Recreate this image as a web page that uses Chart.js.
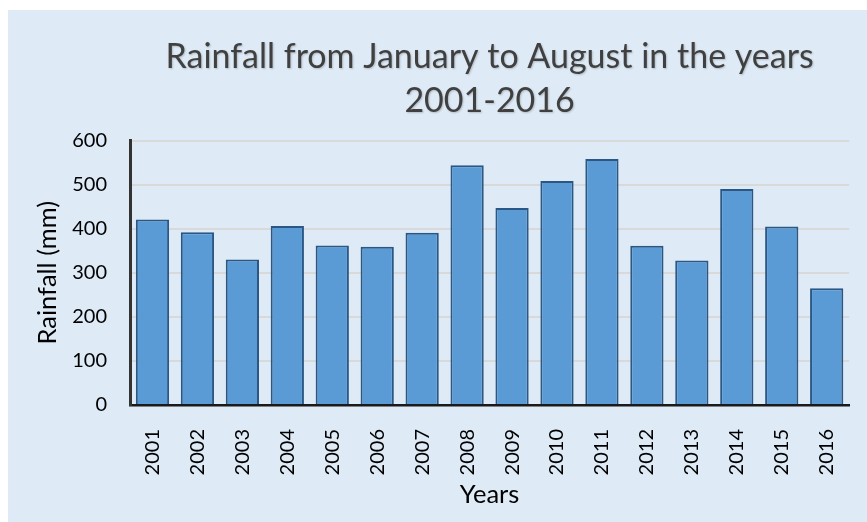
<!DOCTYPE html>
<html>
<head>
<meta charset="utf-8">
<script src="https://cdn.jsdelivr.net/npm/chart.js@4.4.0/dist/chart.umd.min.js"></script>
<style>
  html, body { margin: 0; padding: 0; background: #ffffff; }
  .panel { position: absolute; left: 8px; top: 10px; width: 859px; height: 512px; background: #deebf7; }
</style>
</head>
<body>
<div class="panel"><canvas id="rainChart" width="859" height="512"></canvas></div>
<script>
const years = ['2001', '2002', '2003', '2004', '2005', '2006', '2007', '2008',
               '2009', '2010', '2011', '2012', '2013', '2014', '2015', '2016'];
const rainfall = [421, 392, 330, 406, 362, 359, 391, 544, 447, 508, 558, 361, 328, 490, 405, 265];
const titleLines = ['Rainfall from January to August in the years', '2001-2016'];
const yTicks = [0, 100, 200, 300, 400, 500, 600];

// title is centred over the plot area, not the whole canvas
const plotTitle = {
  id: 'plotTitle',
  afterDraw(chart) {
    const ctx = chart.ctx;
    const area = chart.chartArea;
    const cx = (area.left + area.right) / 2;
    ctx.save();
    ctx.font = '34px Lato';
    ctx.fillStyle = '#404040';
    ctx.textAlign = 'center';
    ctx.textBaseline = 'alphabetic';
    ctx.shadowColor = 'rgba(0,0,0,0.2)';
    ctx.shadowBlur = 2;
    ctx.shadowOffsetX = 1;
    ctx.shadowOffsetY = 1;
    ctx.fillText(titleLines[0], cx, 58);
    ctx.fillText(titleLines[1], cx, 102);
    ctx.restore();
  }
};

new Chart(document.getElementById('rainChart'), {
  type: 'bar',
  data: {
    labels: years,
    datasets: [{
      label: 'Rainfall (mm)',
      data: rainfall,
      backgroundColor: '#5b9bd5',
      borderColor: '#2a5783',
      borderWidth: 2,
      categoryPercentage: 1,
      barPercentage: 0.74
    }]
  },
  options: {
    responsive: false,
    animation: false,
    layout: { padding: { top: 130.5, right: 10, left: 0, bottom: 0 } },
    plugins: {
      legend: { display: false },
      tooltip: { enabled: false },
      title: { display: false }
    },
    scales: {
      x: {
        offset: true,
        grid: { display: false },
        border: { display: true, color: '#1a1a1a', width: 2.5 },
        ticks: {
          autoSkip: false,
          minRotation: 90,
          maxRotation: 90,
          padding: 16,
          color: '#000000',
          font: { family: 'Lato', size: 20 }
        },
        title: {
          display: true,
          text: 'Years',
          color: '#000000',
          font: { family: 'Lato', size: 25.5 },
          padding: { top: 0, bottom: 12 }
        },
        afterFit(scale) { scale.height = 117; }
      },
      y: {
        min: 0,
        max: 600,
        afterBuildTicks(scale) { scale.ticks = yTicks.map(v => ({ value: v })); },
        grid: { color: '#d9d9d9', lineWidth: 2, drawTicks: false },
        border: { display: true, color: '#333333', width: 3 },
        ticks: {
          padding: 23,
          color: '#000000',
          font: { family: 'Lato', size: 20 }
        },
        title: {
          display: true,
          text: 'Rainfall (mm)',
          color: '#000000',
          font: { family: 'Lato', size: 25.5 },
          padding: { top: 24, bottom: 0 }
        },
        afterFit(scale) { scale.width = 122; }
      }
    }
  },
  plugins: [plotTitle]
});
</script>
</body>
</html>
